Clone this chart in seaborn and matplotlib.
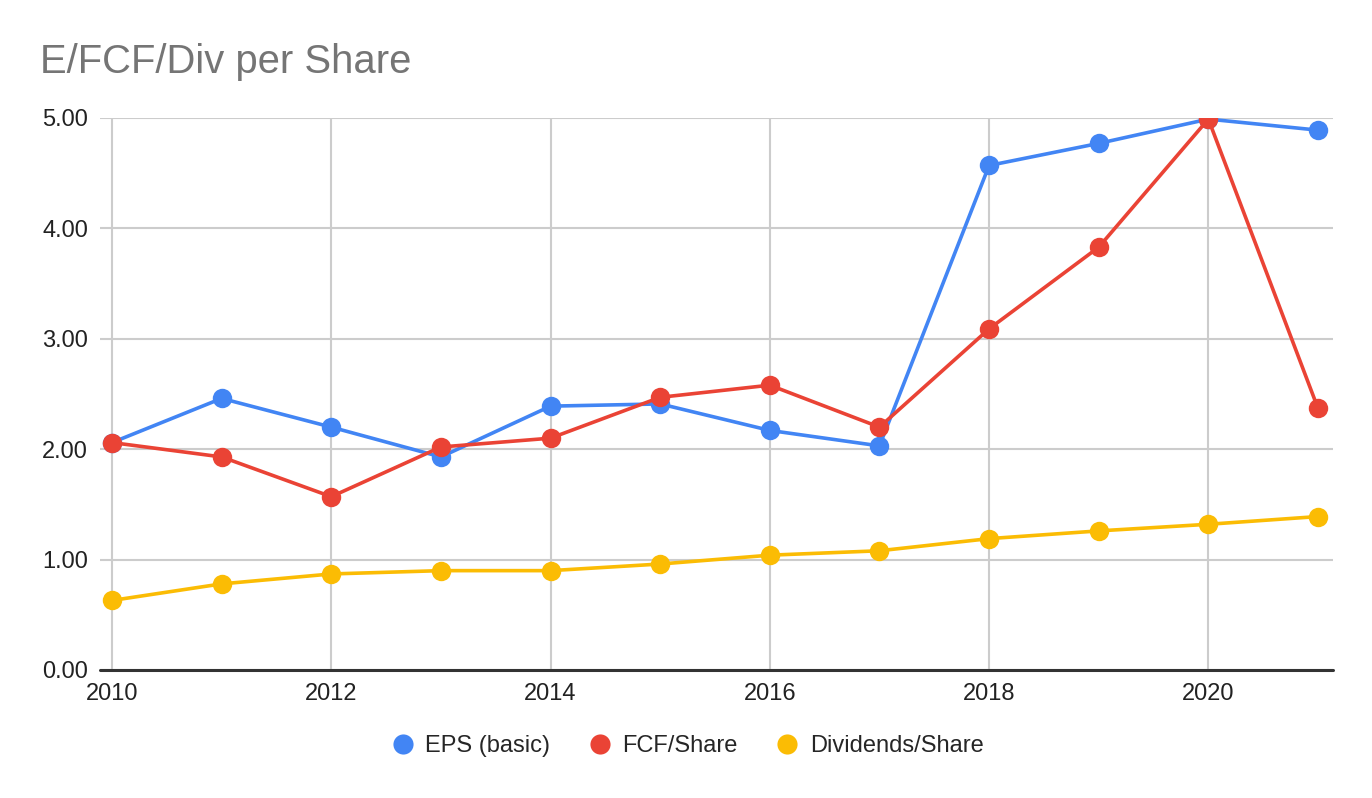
import numpy as np
import pandas as pd
import seaborn as sns
from matplotlib import pyplot as plt
from matplotlib.lines import Line2D

years = [2010, 2011, 2012, 2013, 2014, 2015, 2016, 2017, 2018, 2019, 2020, 2021]
eps_basic = [2.06, 2.46, 2.20, 1.93, 2.39, 2.41, 2.17, 2.03, 4.57, 4.77, 4.99, 4.89]
fcf_share = [2.06, 1.93, 1.57, 2.02, 2.10, 2.47, 2.58, 2.20, 3.09, 3.83, 4.99, 2.37]
div_share = [0.63, 0.78, 0.87, 0.90, 0.90, 0.96, 1.04, 1.08, 1.19, 1.26, 1.32, 1.39]

series_names = ['EPS (basic)', 'FCF/Share', 'Dividends/Share']
colors = ['#4285F4', '#EA4335', '#FBBC04']

df = pd.DataFrame({
    'Year': years * 3,
    'Value': eps_basic + fcf_share + div_share,
    'Series': [s for s in series_names for _ in years],
})

sns.set_style('white')
plt.rcParams['font.family'] = ['Liberation Sans', 'DejaVu Sans']

fig = plt.figure(figsize=(13.72, 7.98), dpi=100)
ax = fig.add_axes([100 / 1372, 1 - 670 / 798, 1233 / 1372, 552 / 798])

sns.lineplot(
    data=df, x='Year', y='Value', hue='Series', hue_order=series_names,
    palette=colors, marker='o', markersize=14, markeredgewidth=0,
    linewidth=2.6, legend=False, ax=ax, zorder=3,
)

ax.set_xlim(2010 - 12 / 109.6, 2021 + 15 / 109.6)
ax.set_ylim(0, 5)
ax.set_xticks(range(2010, 2022, 2))
ax.set_yticks(np.arange(0, 5.01, 1))
ax.set_yticklabels([f'{v:.2f}' for v in np.arange(0, 5.01, 1)])
ax.grid(True, color='#cccccc', linewidth=1.5, zorder=0)
ax.axhline(0, color='#333333', linewidth=2.2, zorder=2, clip_on=False)
for s in ax.spines.values():
    s.set_visible(False)
ax.tick_params(axis='both', length=0, labelsize=17, colors='#222222')
ax.tick_params(axis='y', pad=8.5)
ax.tick_params(axis='x', pad=9)
ax.set_xlabel('')
ax.set_ylabel('')

fig.text(40 / 1372, 1 - 73 / 798, 'E/FCF/Div per Share', fontsize=28.8, color='#757575')

handles = [Line2D([], [], linestyle='none', marker='o', markersize=14.5,
                  markerfacecolor=c, markeredgewidth=0) for c in colors]
fig.legend(handles, series_names, loc='center', bbox_to_anchor=(0.5, 1 - 746 / 798),
           ncol=3, frameon=False, fontsize=17, handletextpad=0.35,
           columnspacing=1.5, handlelength=1.2)

fig.savefig('out.png', dpi=100)
